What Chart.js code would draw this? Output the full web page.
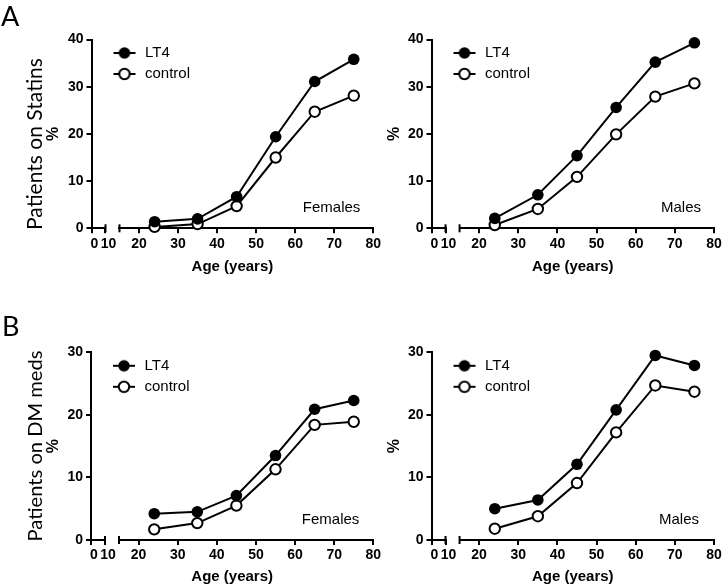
<!DOCTYPE html>
<html>
<head>
<meta charset="utf-8">
<script src="https://cdn.jsdelivr.net/npm/chart.js@4/dist/chart.umd.min.js"></script>
<style>
  html, body { margin: 0; padding: 0; background: #fff; }
  #wrap { position: relative; width: 724px; height: 588px; overflow: hidden; background: #fff; }
  canvas { position: absolute; }
  .lbl { position: absolute; font-family: Lato, "Open Sans", sans-serif; color: #000; white-space: nowrap; line-height: 1; }
  .rot { transform: translate(-50%, -50%) rotate(-90deg); }
</style>
</head>
<body>
<div id="wrap">
  <canvas id="cA1" width="385" height="290" style="left:0;top:0"></canvas>
  <canvas id="cA2" width="339" height="290" style="left:385px;top:0"></canvas>
  <canvas id="cB1" width="385" height="298" style="left:0;top:290px"></canvas>
  <canvas id="cB2" width="339" height="298" style="left:385px;top:290px"></canvas>
  <div class="lbl" id="letA" style="left:1px;top:2px;font-size:27px">A</div>
  <div class="lbl" id="letB" style="left:2px;top:312px;font-size:27px">B</div>
  <div class="lbl rot" id="ttlA" style="left:33.5px;top:144px">Patients on Statins</div>
  <div class="lbl rot" id="ttlB" style="left:33.5px;top:446px">Patients on DM meds</div>
</div>
<script>
// ---- data ----
const ageGroups = [24, 35, 45, 55, 65, 75];
const seriesNames = ['LT4', 'control'];
const statinsFemalesLT4 = [1.4, 2.0, 6.7, 19.4, 31.1, 35.8];
const statinsFemalesControl = [0.3, 0.9, 4.7, 15.0, 24.7, 28.1];
const statinsMalesLT4 = [2.1, 7.1, 15.4, 25.6, 35.2, 39.3];
const statinsMalesControl = [0.7, 4.1, 10.9, 19.9, 27.9, 30.7];
const dmFemalesLT4 = [4.2, 4.5, 7.1, 13.5, 20.9, 22.3];
const dmFemalesControl = [1.7, 2.7, 5.5, 11.3, 18.4, 18.9];
const dmMalesLT4 = [5.0, 6.4, 12.1, 20.8, 29.5, 27.9];
const dmMalesControl = [1.8, 3.8, 9.1, 17.2, 24.7, 23.7];
const xTicksLow = [0, 10];
const xTicksHigh = [20, 30, 40, 50, 60, 70, 80];
const statinsTicks = [0, 10, 20, 30, 40];
const dmTicks = [0, 10, 20, 30];
const xAxisTitle = 'Age (years)';
const yAxisTitle = '%';

// fit rotated panel titles to their measured length
(function () {
  const g = document.createElement('canvas').getContext('2d');
  function fit(id, target) {
    const el = document.getElementById(id);
    g.font = '100px Lato';
    const w = g.measureText(el.textContent).width;
    el.style.fontSize = (100 * target / w).toFixed(2) + 'px';
  }
  fit('ttlA', 172);
  fit('ttlB', 191);
})();

const FONT = '"Liberation Sans", Arial, sans-serif';
const tickFont = { family: FONT, size: 14, weight: 'bold' };

function markerImage(filled) {
  const c = document.createElement('canvas');
  c.width = 40; c.height = 16;
  const g = c.getContext('2d');
  g.strokeStyle = '#000'; g.lineWidth = 2;
  g.beginPath(); g.moveTo(16, 8); g.lineTo(38, 8); g.stroke();
  g.beginPath(); g.arc(27, 8, filled ? 5.8 : 5.2, 0, Math.PI * 2);
  g.fillStyle = filled ? '#000' : '#fff'; g.fill();
  if (!filled) g.stroke();
  return c;
}
const markers = [markerImage(true), markerImage(false)];

const extras = {
  id: 'extras',
  afterDraw(chart, args, opts) {
    const ctx = chart.ctx;
    const x0 = chart.scales.x0, x = chart.scales.x;
    ctx.save();
    ctx.strokeStyle = '#000'; ctx.lineWidth = 2;
    const yA = x.top;
    [x0.getPixelForValue(x0.max), x.getPixelForValue(x.min)].forEach(px => {
      ctx.beginPath(); ctx.moveTo(px, yA - 4); ctx.lineTo(px, yA + 4); ctx.stroke();
    });
    const ca = chart.chartArea;
    ctx.font = '15px ' + FONT;
    ctx.fillStyle = '#000';
    ctx.textAlign = 'right'; ctx.textBaseline = 'middle';
    ctx.fillText(opts.note, ca.right - opts.noteRight, ca.bottom - 20);
    ctx.restore();
  }
};

function pts(vals) { return ageGroups.map((a, i) => ({ x: a, y: vals[i] })); }

function xAxisCommon(extra) {
  return Object.assign({
    type: 'linear', position: 'bottom', stack: 'xs',
    ticks: { autoSkip: false, maxRotation: 0, minRotation: 0, padding: 2, font: tickFont, color: '#000' },
    grid: { drawOnChartArea: false, tickLength: 5, lineWidth: 2, color: '#000' },
    border: { color: '#000', width: 2 },
    afterFit: s => { s.height = 24; }
  }, extra);
}

function makePanel(id, p) {
  new Chart(document.getElementById(id), {
    type: 'line',
    data: {
      datasets: [
        { label: seriesNames[0], data: pts(p.lt4), borderColor: '#000', borderWidth: 2,
          pointRadius: 5.8, pointBackgroundColor: '#000', pointBorderColor: '#000', pointBorderWidth: 0,
          tension: 0, clip: false, xAxisID: 'x', yAxisID: 'y' },
        { label: seriesNames[1], data: pts(p.ctrl), borderColor: '#000', borderWidth: 2,
          pointRadius: 5.2, pointBackgroundColor: '#fff', pointBorderColor: '#000', pointBorderWidth: 2,
          tension: 0, clip: false, xAxisID: 'x', yAxisID: 'y' }
      ]
    },
    options: {
      responsive: false, animation: false, devicePixelRatio: 1, events: [],
      layout: { padding: { left: p.padLeft, top: p.padTop, right: p.padRight, bottom: p.padBottom } },
      scales: {
        x0: xAxisCommon({ stackWeight: 14, min: 0, max: 10,
          ticks: { autoSkip: false, maxRotation: 0, minRotation: 0, padding: 2, font: tickFont, color: '#000', labelOffset: 3 },
          afterBuildTicks: s => { s.ticks = xTicksLow.map(v => ({ value: v })); } }),
        xgap: xAxisCommon({ stackWeight: 14, min: 10, max: 15, display: false }),
        x: xAxisCommon({ stackWeight: 254, min: 15, max: 80,
          afterBuildTicks: s => { s.ticks = xTicksHigh.map(v => ({ value: v })); } }),
        y: {
          type: 'linear', position: 'left', min: 0, max: p.yTicks[p.yTicks.length - 1],
          afterBuildTicks: s => { s.ticks = p.yTicks.map(v => ({ value: v })); },
          ticks: { padding: 3, font: tickFont, color: '#000' },
          grid: { drawOnChartArea: false, tickLength: 5, lineWidth: 2, color: '#000' },
          border: { color: '#000', width: 2 },
          title: { display: true, text: yAxisTitle, color: '#000', font: { family: FONT, size: 16, weight: 'bold' },
                   padding: { top: 0, bottom: 0 } },
          afterFit: s => { s.width = p.yWidth; }
        }
      },
      plugins: {
        legend: {
          position: 'chartArea', align: 'start',
          title: { display: true, text: '', font: { family: FONT, size: 10, lineHeight: 1 },
                   padding: { top: p.padTop - 10, bottom: 0 } },
          labels: {
            usePointStyle: true, pointStyleWidth: 40, padding: 6, color: '#000',
            font: { family: FONT, size: 15 },
            generateLabels: () => seriesNames.map((n, i) => ({
              text: n, pointStyle: markers[i], fillStyle: '#000', strokeStyle: '#000',
              lineWidth: 0, hidden: false, datasetIndex: i, fontColor: '#000'
            }))
          }
        },
        title: {
          display: true, position: 'bottom', fullSize: false, text: xAxisTitle, color: '#000',
          font: { family: FONT, size: 15, weight: 'bold' }, padding: { top: p.xTitlePad, bottom: 0 }
        },
        tooltip: { enabled: false },
        extras: { note: p.note, noteRight: p.noteRight }
      }
    },
    plugins: [extras]
  });
}

makePanel('cA1', { lt4: statinsFemalesLT4, ctrl: statinsFemalesControl, yTicks: statinsTicks,
  padLeft: 44, padTop: 39.5, padRight: 11.7, padBottom: 14.3, yWidth: 47.5, xTitlePad: 5.4,
  note: 'Females', noteRight: 13 });
makePanel('cA2', { lt4: statinsMalesLT4, ctrl: statinsMalesControl, yTicks: statinsTicks,
  padLeft: 0, padTop: 39.5, padRight: 10, padBottom: 14.3, yWidth: 46.5, xTitlePad: 5.4,
  note: 'Males', noteRight: 13 });
makePanel('cB1', { lt4: dmFemalesLT4, ctrl: dmFemalesControl, yTicks: dmTicks,
  padLeft: 44, padTop: 62.3, padRight: 11.7, padBottom: 2.3, yWidth: 47, xTitlePad: 3.7,
  note: 'Females', noteRight: 14 });
makePanel('cB2', { lt4: dmMalesLT4, ctrl: dmMalesControl, yTicks: dmTicks,
  padLeft: 0, padTop: 62.3, padRight: 10, padBottom: 2.3, yWidth: 46.5, xTitlePad: 3.7,
  note: 'Males', noteRight: 15 });
</script>
</body>
</html>
